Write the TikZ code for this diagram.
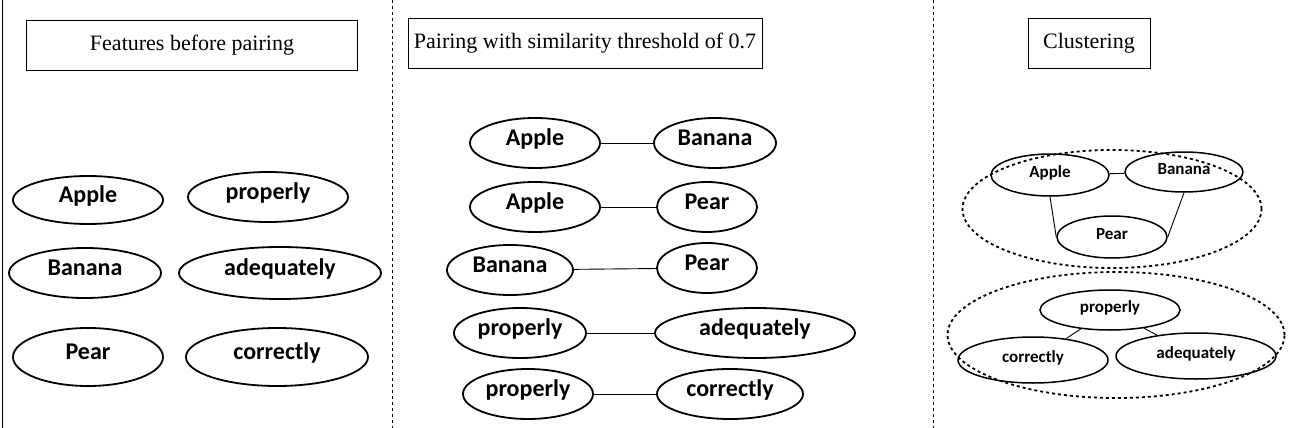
\documentclass[tikz,border=0pt]{standalone}
\usepackage{fontspec}
\setmainfont{Liberation Serif}
\newfontfamily\labelfont{Carlito}
\usetikzlibrary{shapes.geometric}
\begin{document}
\begin{tikzpicture}[
    x=1pt, y=-1pt,
    titlebox/.style={draw, thick, inner sep=0pt, font=\fontsize{22}{26}\selectfont},
    word/.style={ellipse, draw, line width=1.8pt, inner sep=0pt, text height=1.6ex, text depth=0.45ex,
                 font=\labelfont\bfseries\fontsize{24}{28}\selectfont},
    small/.style={word, line width=1.5pt, font=\labelfont\bfseries\fontsize{17}{20}\selectfont},
    group/.style={ellipse, draw, dashed, line width=1.8pt, inner sep=0pt},
    link/.style={line width=0.9pt}
]
\useasboundingbox (0,0) rectangle (1291,428);
\draw[thick] (2,0) -- (2,428);
\draw[dashed, thick] (392,0) -- (392,428);
\draw[dashed, thick] (933,0) -- (933,428);

% titles
\node[titlebox, minimum width=331, minimum height=50] (t1) at (192,45) {Features before pairing};
\node[titlebox, minimum width=354, minimum height=50] (t2) at (585,43) {Pairing with similarity threshold of 0.7};
\node[titlebox, minimum width=122, minimum height=50] (t3) at (1089,43) {Clustering};

% features before pairing
\node[word, minimum width=150, minimum height=48] (apple1) at (88,200) {Apple};
\node[word, minimum width=160, minimum height=50] (properly1) at (268,197) {properly};
\node[word, minimum width=152, minimum height=50] (banana1) at (85,273) {Banana};
\node[word, minimum width=202, minimum height=52] (adequately1) at (280,273) {adequately};
\node[word, minimum width=150, minimum height=58] (pear1) at (88,357) {Pear};
\node[word, minimum width=182, minimum height=58] (correctly1) at (277,357) {correctly};

% pairs
\node[word, minimum width=130, minimum height=50] (appleA) at (535,143) {Apple};
\node[word, minimum width=122, minimum height=50] (bananaA) at (715,143) {Banana};
\node[word, minimum width=130, minimum height=50] (appleB) at (535,207) {Apple};
\node[word, minimum width=100, minimum height=50] (pearB) at (707,207) {Pear};
\node[word, minimum width=126, minimum height=50] (bananaC) at (510,270) {Banana};
\node[word, minimum width=100, minimum height=50] (pearC) at (707,268) {Pear};
\node[word, minimum width=132, minimum height=50] (properlyD) at (520,333) {properly};
\node[word, minimum width=200, minimum height=50] (adequatelyD) at (755,333) {adequately};
\node[word, minimum width=130, minimum height=50] (properlyE) at (528,394) {properly};
\node[word, minimum width=146, minimum height=50] (correctlyE) at (730,394) {correctly};
\draw[link] (appleA) -- (bananaA);
\draw[link] (appleB) -- (pearB);
\draw[link] (bananaC) -- (pearC);
\draw[link] (properlyD) -- (adequatelyD);
\draw[link] (properlyE) -- (correctlyE);

% clusters
\node[group, minimum width=299, minimum height=118] (fruit) at (1112,209) {};
\node[small, minimum width=118, minimum height=42] (apple3) at (1050,175) {Apple};
\node[small, minimum width=118, minimum height=40] (banana3) at (1184,172) {Banana};
\node[small, minimum width=110, minimum height=42] (pear3) at (1112,237) {Pear};
\draw[link] (apple3) -- (banana3);
\draw[link] (apple3.south) -- (pear3.west);
\draw[link] (banana3.south) -- (pear3.east);

\node[group, minimum width=337, minimum height=126] (adverb) at (1116,335) {};
\node[small, minimum width=140, minimum height=40] (properly3) at (1110,310) {properly};
\node[small, minimum width=150, minimum height=46] (correctly3) at (1033,360) {correctly};
\node[small, minimum width=160, minimum height=46] (adequately3) at (1196,356) {adequately};
\draw[link] (properly3) -- (correctly3);
\draw[link] (properly3) -- (adequately3);
\end{tikzpicture}
\end{document}
